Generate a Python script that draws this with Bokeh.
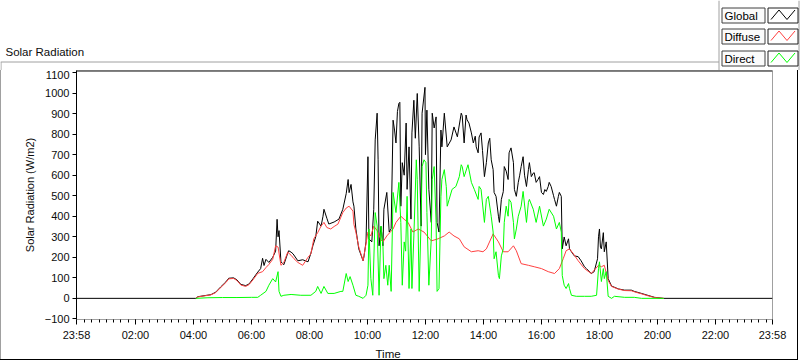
from bokeh.plotting import figure
from bokeh.layouts import column
from bokeh.models import Range1d, FixedTicker, Label, Span, Title
from bokeh.embed import file_html
from bokeh.resources import INLINE

# ---------------- data (time HH:MM, W/m2) ----------------
global_time = ["-0:02", "04:05", "04:09", "04:25", "04:36", "04:46", "04:56", "05:07", "05:13", "05:23",
               "05:30", "05:38", "05:48", "05:55", "06:03", "06:13", "06:19", "06:23", "06:26", "06:30",
               "06:36", "06:44", "06:50", "06:53", "06:55", "06:57", "07:01", "07:07", "07:15", "07:17",
               "07:22", "07:26", "07:36", "07:46", "07:57", "08:03", "08:07", "08:13", "08:17", "08:24",
               "08:28", "08:30", "08:36", "08:40", "08:51", "09:01", "09:09", "09:16", "09:20", "09:22",
               "09:26", "09:30", "09:32", "09:36", "09:42", "09:51", "09:53", "09:57", "10:01", "10:03",
               "10:09", "10:13", "10:16", "10:20", "10:22", "10:24", "10:28", "10:32", "10:34", "10:40",
               "10:45", "10:49", "10:53", "10:56", "10:59", "11:02", "11:05", "11:07", "11:09", "11:12",
               "11:16", "11:20", "11:22", "11:26", "11:30", "11:32", "11:36", "11:39", "11:43", "11:47",
               "11:51", "11:53", "11:59", "12:00", "12:03", "12:07", "12:12", "12:14", "12:18", "12:22",
               "12:24", "12:28", "12:32", "12:34", "12:39", "12:45", "12:53", "12:59", "13:06", "13:14",
               "13:16", "13:20", "13:24", "13:26", "13:30", "13:35", "13:39", "13:43", "13:45", "13:49",
               "13:51", "13:55", "13:58", "14:02", "14:06", "14:10", "14:13", "14:16", "14:20", "14:22",
               "14:26", "14:31", "14:33", "14:37", "14:41", "14:43", "14:47", "14:51", "14:53", "14:57",
               "15:02", "15:04", "15:08", "15:12", "15:15", "15:18", "15:22", "15:25", "15:29", "15:33",
               "15:35", "15:39", "15:43", "15:45", "15:49", "15:53", "15:56", "16:00", "16:04", "16:07",
               "16:10", "16:14", "16:16", "16:20", "16:25", "16:27", "16:31", "16:35", "16:37", "16:41",
               "16:43", "16:47", "16:51", "16:56", "16:58", "17:02", "17:08", "17:16", "17:22", "17:29",
               "17:33", "17:43", "17:49", "17:56", "17:58", "18:00", "18:02", "18:04", "18:08", "18:10",
               "18:14", "18:18", "18:25", "18:39", "18:52", "19:06", "19:12", "19:27", "19:41", "19:54",
               "20:13", "23:58"]
global_wm2 = [0, 0, 8, 14, 18, 30, 55, 80, 98, 100,
              90, 68, 62, 70, 95, 128, 145, 195, 160, 190,
              175, 200, 230, 385, 300, 330, 178, 164, 220, 232,
              225, 217, 183, 188, 178, 220, 256, 300, 376, 352,
              400, 434, 390, 362, 372, 386, 434, 510, 579, 515,
              555, 470, 449, 338, 241, 183, 207, 275, 690, 290,
              275, 434, 772, 902, 675, 256, 350, 256, 434, 516,
              323, 340, 868, 820, 757, 910, 950, 955, 449, 661,
              600, 854, 531, 738, 386, 806, 965, 780, 998, 738,
              352, 902, 1028, 700, 917, 531, 370, 902, 830, 884,
              370, 323, 820, 738, 902, 738, 772, 835, 787, 902,
              890, 757, 893, 870, 854, 806, 757, 790, 738, 709,
              786, 806, 720, 593, 661, 757, 780, 675, 627, 516,
              497, 400, 370, 482, 520, 642, 620, 579, 709, 733,
              661, 531, 497, 565, 600, 642, 690, 600, 545, 627,
              661, 593, 610, 612, 565, 580, 593, 516, 506, 530,
              521, 545, 565, 545, 500, 482, 449, 497, 516, 497,
              241, 299, 256, 290, 241, 227, 207, 203, 183, 154,
              145, 121, 130, 193, 300, 338, 250, 241, 320, 227,
              275, 96, 60, 46, 40, 40, 34, 24, 14, 5,
              0, 0]

diffuse_time = ["04:05", "04:09", "04:25", "04:36", "04:46", "04:56", "05:07", "05:13", "05:23", "05:30",
                "05:38", "05:48", "05:55", "06:03", "06:13", "06:23", "06:30", "06:36", "06:44", "06:50",
                "06:55", "07:01", "07:07", "07:15", "07:22", "07:28", "07:36", "07:46", "07:57", "08:03",
                "08:09", "08:17", "08:24", "08:30", "08:36", "08:44", "08:51", "08:59", "09:09", "09:16",
                "09:22", "09:30", "09:32", "09:36", "09:42", "09:51", "10:01", "10:07", "10:13", "10:20",
                "10:28", "10:32", "10:40", "10:53", "10:59", "11:09", "11:16", "11:24", "11:34", "11:45",
                "11:57", "12:12", "12:26", "12:39", "12:49", "12:59", "13:10", "13:20", "13:35", "13:49",
                "13:59", "14:06", "14:20", "14:31", "14:41", "14:51", "15:02", "15:08", "15:18", "15:33",
                "15:45", "16:00", "16:14", "16:27", "16:37", "16:45", "16:51", "16:58", "17:06", "17:16",
                "17:29", "17:43", "17:58", "18:04", "18:10", "18:18", "18:25", "18:39", "18:52", "19:06",
                "19:12", "19:27", "19:41", "19:54", "20:13"]
diffuse_wm2 = [0, 7, 13, 17, 28, 52, 77, 95, 97, 87,
               65, 58, 67, 90, 122, 130, 150, 165, 190, 256,
               250, 161, 175, 225, 210, 193, 175, 161, 200, 217,
               290, 320, 352, 370, 345, 338, 350, 362, 418, 440,
               449, 425, 360, 323, 250, 183, 323, 304, 352, 330,
               285, 275, 304, 338, 370, 400, 385, 370, 323, 338,
               323, 280, 290, 304, 323, 304, 290, 251, 227, 232,
               227, 241, 314, 275, 227, 227, 256, 232, 169, 161,
               154, 145, 130, 121, 145, 193, 232, 241, 217, 183,
               145, 121, 161, 154, 161, 87, 58, 45, 38, 37,
               32, 22, 12, 4, 0]

direct_time = ["04:05", "04:30", "05:00", "05:30", "06:00", "06:13", "06:19", "06:30", "06:36", "06:44",
               "06:50", "06:55", "06:57", "07:01", "07:07", "07:22", "07:42", "08:03", "08:13", "08:17",
               "08:24", "08:30", "08:38", "08:51", "09:05", "09:09", "09:16", "09:20", "09:24", "09:30",
               "09:36", "09:42", "09:51", "09:57", "10:01", "10:03", "10:07", "10:11", "10:16", "10:20",
               "10:24", "10:28", "10:32", "10:34", "10:38", "10:42", "10:45", "10:49", "10:53", "10:59",
               "11:05", "11:09", "11:12", "11:16", "11:19", "11:22", "11:26", "11:30", "11:32", "11:36",
               "11:41", "11:43", "11:47", "11:51", "11:53", "11:57", "12:01", "12:03", "12:07", "12:12",
               "12:14", "12:18", "12:22", "12:24", "12:28", "12:32", "12:34", "12:39", "12:43", "12:45",
               "12:49", "12:55", "13:03", "13:10", "13:14", "13:16", "13:20", "13:28", "13:35", "13:41",
               "13:49", "13:51", "13:55", "14:02", "14:06", "14:10", "14:16", "14:20", "14:22", "14:26",
               "14:31", "14:33", "14:37", "14:41", "14:43", "14:47", "14:51", "14:53", "14:57", "15:02",
               "15:04", "15:08", "15:12", "15:18", "15:22", "15:29", "15:33", "15:35", "15:43", "15:49",
               "15:56", "16:04", "16:10", "16:16", "16:25", "16:31", "16:37", "16:41", "16:43", "16:47",
               "16:51", "16:56", "16:58", "17:02", "17:12", "17:29", "17:43", "17:54", "17:58", "18:00",
               "18:04", "18:08", "18:10", "18:14", "18:18", "18:25", "18:31", "18:52", "19:12", "19:27",
               "20:13"]
direct_wm2 = [0, 3, 4, 4, 5, 5, 15, 34, 64, 96,
              80, 130, 34, 10, 15, 19, 15, 15, 34, 58,
              24, 58, 24, 24, 34, 34, 121, 82, 106, 64,
              15, 10, 0, 15, 64, 338, 96, 15, 418, 352,
              15, 352, 260, 96, 161, 64, 161, 34, 516, 418,
              565, 370, 64, 275, 230, 497, 48, 338, 48, 304,
              675, 579, 34, 386, 642, 675, 661, 418, 64, 290,
              579, 642, 370, 34, 48, 497, 579, 627, 545, 449,
              482, 531, 545, 593, 651, 642, 593, 651, 565, 531,
              482, 545, 531, 370, 482, 497, 400, 323, 193, 227,
              111, 96, 207, 241, 370, 449, 400, 482, 468, 370,
              290, 338, 400, 449, 521, 370, 468, 482, 434, 370,
              449, 352, 386, 434, 400, 338, 370, 323, 111, 64,
              48, 72, 48, 15, 10, 10, 10, 15, 145, 178,
              82, 145, 96, 130, 10, 0, 10, 5, 5, 0,
              0]

series_names = ["Global", "Diffuse", "Direct"]
series_colors = ["#000000", "#ff4040", "#00ff00"]
tick_minutes = [-2, 120, 240, 360, 480, 600, 720, 840, 960, 1080, 1200, 1320, 1438]
tick_labels = ["23:58", "02:00", "04:00", "06:00", "08:00", "10:00", "12:00",
               "14:00", "16:00", "18:00", "20:00", "22:00", "23:58"]
y_ticks = [-100, 0, 100, 200, 300, 400, 500, 600, 700, 800, 900, 1000, 1100]


def to_min(s):
    neg = s.startswith("-")
    h, m = s.lstrip("-").split(":")
    v = int(h) * 60 + int(m)
    return -v if neg else v


FONT = "Liberation Sans"
TXT = "#0c0c0c"

# ---------------- header strip: title + LabVIEW-style legend ----------------
top = figure(width=800, height=70, output_backend="svg", toolbar_location=None,
             x_range=Range1d(0, 800), y_range=Range1d(70, 0),
             min_border=0, x_axis_type=None, y_axis_type=None)
top.frame_align = False
top.grid.visible = False
top.outline_line_color = None
top.background_fill_color = "white"
top.border_fill_color = "white"

top.add_layout(Label(x=5, y=51, text="Solar Radiation", text_font=FONT, text_font_size="11.5px",
                     text_color=TXT, text_baseline="middle", text_align="left"))
# panel borders
top.segment(x0=[0, 0.5, 718.5, 798.5], y0=[61.5, 61.5, 0, 0],
            x1=[718.5, 0.5, 718.5, 798.5], y1=[61.5, 70, 70, 70],
            line_color="#a0a0a0", line_width=1)

row_tops = [7, 28, 50]
for i, (name, col) in enumerate(zip(series_names, series_colors)):
    t = row_tops[i]
    top.quad(left=721.5, right=764.5, top=t + 0.5, bottom=t + 15.5,
             fill_color="#fbfbfb", line_color="#404040", line_width=1)
    top.quad(left=767.5, right=797.5, top=t + 0.5, bottom=t + 15.5,
             fill_color="white", line_color="#202020", line_width=1)
    top.add_layout(Label(x=724, y=t + 8.5, text=name, text_font=FONT, text_font_size="11.5px",
                         text_color="black", text_baseline="middle", text_align="left"))
    top.line([770.5, 778.5, 786.5, 794.5], [t + 12, t + 2.5, t + 12, t + 2.5],
             line_color=col, line_width=1)

# ---------------- main chart ----------------
p = figure(width=800, height=291, output_backend="svg", toolbar_location=None,
           x_range=Range1d(-2, 1438), y_range=Range1d(-103, 1110),
           min_border_left=76, min_border_right=28, min_border_top=0, min_border_bottom=39)
p.frame_align = False
p.grid.visible = False
p.outline_line_color = "#a0a0a0"
p.background_fill_color = "white"
p.border_fill_alpha = 0
p.styles = {"box-shadow": "inset -2px -1px 0 0 #ffffff, inset -3px -2px 0 0 #000000, "
                          "inset 1px 0 0 0 #a0a0a0",
            "background-color": "#ffffff"}

xa = p.xaxis[0]
xa.ticker = FixedTicker(ticks=tick_minutes, minor_ticks=list(range(15, 1440, 15)))
xa.major_label_overrides = {t: l for t, l in zip(tick_minutes, tick_labels)}
xa.axis_line_color = "#a0a0a0"
xa.major_tick_line_color = "black"
xa.minor_tick_line_color = "black"
xa.major_tick_in = 0
xa.major_tick_out = 5
xa.minor_tick_in = 0
xa.minor_tick_out = 3
xa.major_label_standoff = 4
xa.major_label_text_font = FONT
xa.major_label_text_font_size = "11px"
xa.major_label_text_color = TXT

ya = p.yaxis[0]
ya.ticker = FixedTicker(ticks=y_ticks, minor_ticks=[])
ya.axis_line_color = "black"
ya.major_tick_line_color = "black"
ya.major_tick_in = 0
ya.major_tick_out = 4
ya.major_label_standoff = 3
ya.major_label_text_font = FONT
ya.major_label_text_font_size = "11px"
ya.major_label_text_color = TXT
ya.axis_label = "Solar Radiation (W/m2)"
ya.axis_label_text_font = FONT
ya.axis_label_text_font_size = "11px"
ya.axis_label_text_font_style = "normal"
ya.axis_label_text_color = TXT
ya.axis_label_standoff = 6

p.add_layout(Title(text="Time", align="left", offset=299, standoff=4, text_font=FONT,
                   text_font_size="11.5px", text_font_style="normal", text_color=TXT), "below")

p.add_layout(Span(location=1107.6, dimension="width", line_color="black", line_width=1))

for t, v, c in [(global_time, global_wm2, series_colors[0]),
                (diffuse_time, diffuse_wm2, series_colors[1]),
                (direct_time, direct_wm2, series_colors[2])]:
    p.line([to_min(s) for s in t], v, line_color=c, line_width=1)

layout = column(top, p, spacing=0)
open("out.html", "w").write(file_html(layout, INLINE))
